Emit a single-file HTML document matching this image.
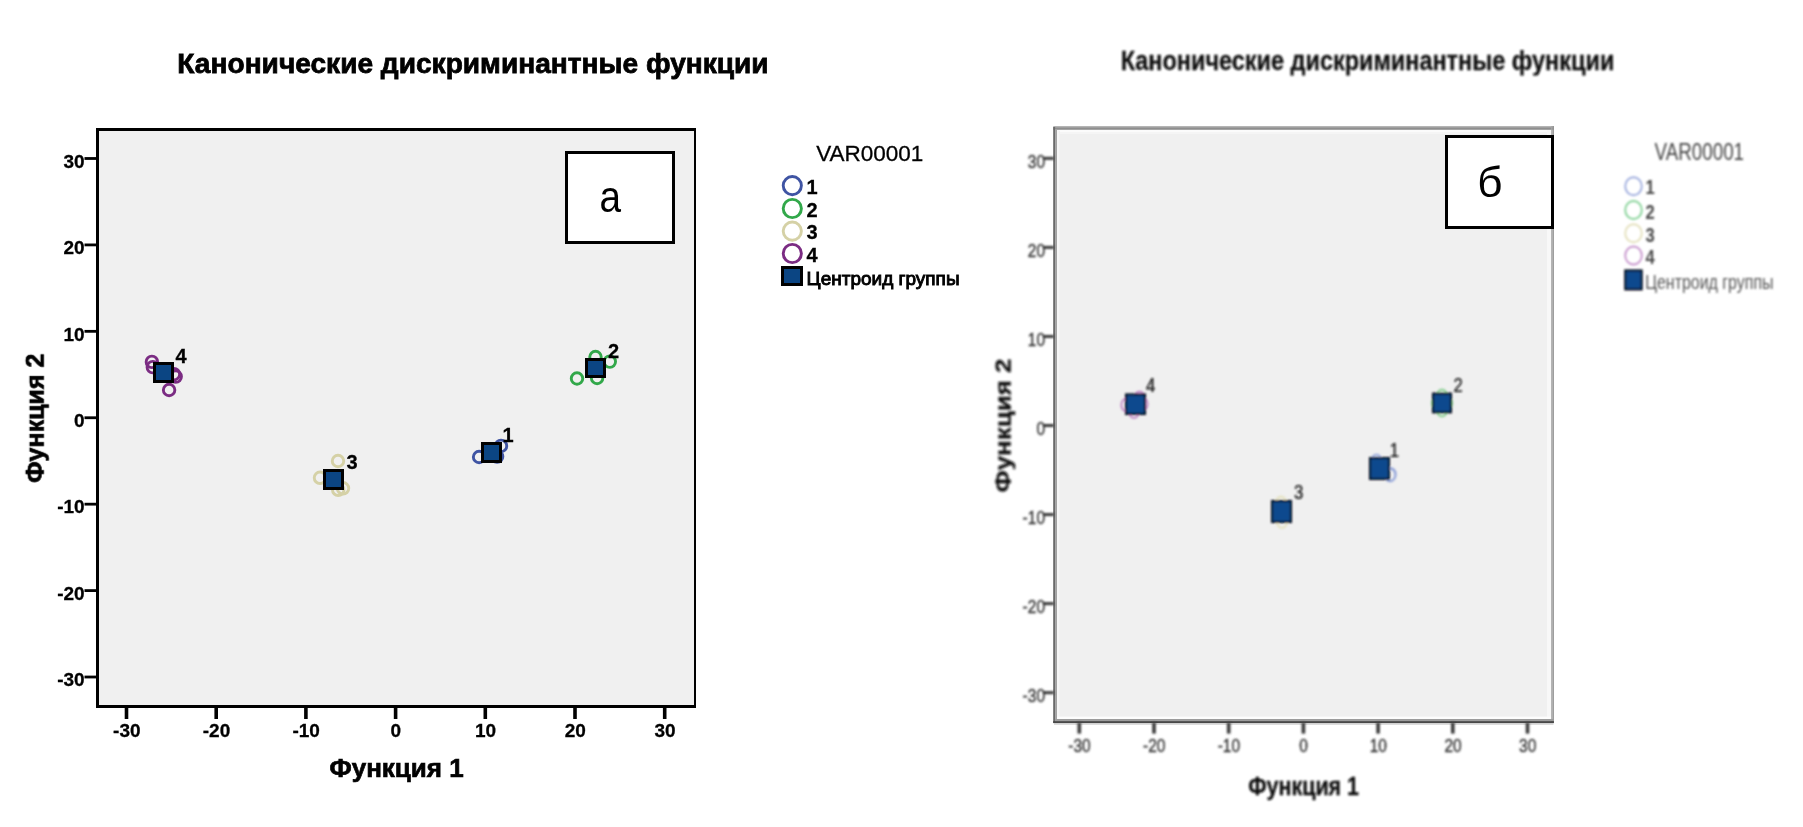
<!DOCTYPE html>
<html lang="ru">
<head>
<meta charset="utf-8">
<title>Канонические дискриминантные функции</title>
<style>
html,body{margin:0;padding:0;background:#fff;}
body{width:1803px;height:827px;overflow:hidden;}
svg{display:block;font-family:"Liberation Sans", Arial, sans-serif;}
text{white-space:pre;}
</style>
</head>
<body>
<svg width="1803" height="827" viewBox="0 0 1803 827">
<defs><filter id="blur" x="-5%" y="-5%" width="110%" height="110%"><feGaussianBlur stdDeviation="0.8"/></filter></defs>
<rect x="0" y="0" width="1803" height="827" fill="#fff"/>
<g id="lframe">
<rect x="96.00" y="128.00" width="600.00" height="580.00" fill="#000" />
<rect x="99.00" y="131.00" width="595.00" height="574.00" fill="#f0f0f0" />
<rect x="565.00" y="151.00" width="110.00" height="93.00" fill="#000" />
<rect x="568.00" y="154.00" width="104.00" height="87.00" fill="#fff" />
</g>
<g id="rframe">
<rect x="1054.00" y="127.00" width="499.00" height="595.00" fill="#f0f0f0" />
<rect x="1056.00" y="129.00" width="496.00" height="3.00" fill="#fbfbfb" />
<rect x="1056.00" y="132.00" width="496.00" height="2.00" fill="#f5f5f5" />
<rect x="1057.00" y="129.00" width="2.00" height="591.00" fill="#f7f7f7" />
<rect x="1059.00" y="131.00" width="1.00" height="589.00" fill="#f3f3f3" />
<rect x="1547.00" y="129.00" width="4.00" height="591.00" fill="#f8f8f8" />
<rect x="1056.00" y="716.60" width="496.00" height="2.40" fill="#fdfdfd" />
<rect x="1053.30" y="126.00" width="500.70" height="1.20" fill="#b4b4b4" />
<rect x="1053.30" y="127.20" width="500.70" height="2.60" fill="#8e8e8e" />
<rect x="1551.20" y="126.00" width="1.40" height="597.00" fill="#a6a6a6" />
<rect x="1552.60" y="126.00" width="1.30" height="597.00" fill="#949494" />
<rect x="1053.20" y="127.00" width="1.90" height="596.00" fill="#6a6a6a" />
<rect x="1055.10" y="129.00" width="1.90" height="592.00" fill="#a2a2a2" />
<rect x="1055.00" y="719.00" width="498.90" height="2.10" fill="#9c9c9c" />
<rect x="1053.20" y="721.10" width="500.70" height="2.00" fill="#484848" />
<rect x="1054.00" y="723.10" width="499.50" height="1.60" fill="#cfcfcf" />
</g>
<g id="right" filter="url(#blur)">
<rect x="1044.00" y="691.15" width="10.00" height="3.00" fill="#3a3a3a" />
<text transform="translate(1045.00,701.95) scale(0.8800,1.0000)" font-size="17.6" font-weight="normal" fill="#333" text-anchor="end" stroke="#333" stroke-width="0.35">-30</text>
<rect x="1077.50" y="722.50" width="3.60" height="11.10" fill="#3a3a3a" />
<text transform="translate(1079.50,752.30) scale(0.8800,1.0000)" font-size="17.6" font-weight="normal" fill="#333" text-anchor="middle" stroke="#333" stroke-width="0.35">-30</text>
<rect x="1044.00" y="602.10" width="10.00" height="3.00" fill="#3a3a3a" />
<text transform="translate(1045.00,612.90) scale(0.8800,1.0000)" font-size="17.6" font-weight="normal" fill="#333" text-anchor="end" stroke="#333" stroke-width="0.35">-20</text>
<rect x="1152.20" y="722.50" width="3.60" height="11.10" fill="#3a3a3a" />
<text transform="translate(1154.20,752.30) scale(0.8800,1.0000)" font-size="17.6" font-weight="normal" fill="#333" text-anchor="middle" stroke="#333" stroke-width="0.35">-20</text>
<rect x="1044.00" y="513.05" width="10.00" height="3.00" fill="#3a3a3a" />
<text transform="translate(1045.00,523.85) scale(0.8800,1.0000)" font-size="17.6" font-weight="normal" fill="#333" text-anchor="end" stroke="#333" stroke-width="0.35">-10</text>
<rect x="1226.90" y="722.50" width="3.60" height="11.10" fill="#3a3a3a" />
<text transform="translate(1228.90,752.30) scale(0.8800,1.0000)" font-size="17.6" font-weight="normal" fill="#333" text-anchor="middle" stroke="#333" stroke-width="0.35">-10</text>
<rect x="1044.00" y="424.00" width="10.00" height="3.00" fill="#3a3a3a" />
<text transform="translate(1045.00,434.80) scale(0.8800,1.0000)" font-size="17.6" font-weight="normal" fill="#333" text-anchor="end" stroke="#333" stroke-width="0.35">0</text>
<rect x="1301.60" y="722.50" width="3.60" height="11.10" fill="#3a3a3a" />
<text transform="translate(1303.60,752.30) scale(0.8800,1.0000)" font-size="17.6" font-weight="normal" fill="#333" text-anchor="middle" stroke="#333" stroke-width="0.35">0</text>
<rect x="1044.00" y="334.95" width="10.00" height="3.00" fill="#3a3a3a" />
<text transform="translate(1045.00,345.75) scale(0.8800,1.0000)" font-size="17.6" font-weight="normal" fill="#333" text-anchor="end" stroke="#333" stroke-width="0.35">10</text>
<rect x="1376.30" y="722.50" width="3.60" height="11.10" fill="#3a3a3a" />
<text transform="translate(1378.30,752.30) scale(0.8800,1.0000)" font-size="17.6" font-weight="normal" fill="#333" text-anchor="middle" stroke="#333" stroke-width="0.35">10</text>
<rect x="1044.00" y="245.90" width="10.00" height="3.00" fill="#3a3a3a" />
<text transform="translate(1045.00,256.70) scale(0.8800,1.0000)" font-size="17.6" font-weight="normal" fill="#333" text-anchor="end" stroke="#333" stroke-width="0.35">20</text>
<rect x="1451.00" y="722.50" width="3.60" height="11.10" fill="#3a3a3a" />
<text transform="translate(1453.00,752.30) scale(0.8800,1.0000)" font-size="17.6" font-weight="normal" fill="#333" text-anchor="middle" stroke="#333" stroke-width="0.35">20</text>
<rect x="1044.00" y="156.85" width="10.00" height="3.00" fill="#3a3a3a" />
<text transform="translate(1045.00,167.65) scale(0.8800,1.0000)" font-size="17.6" font-weight="normal" fill="#333" text-anchor="end" stroke="#333" stroke-width="0.35">30</text>
<rect x="1525.70" y="722.50" width="3.60" height="11.10" fill="#3a3a3a" />
<text transform="translate(1527.70,752.30) scale(0.8800,1.0000)" font-size="17.6" font-weight="normal" fill="#333" text-anchor="middle" stroke="#333" stroke-width="0.35">30</text>
<text transform="translate(1367.50,69.60) scale(0.8380,1.0000)" font-size="28" font-weight="bold" fill="#111" text-anchor="middle" stroke="#111" stroke-width="0.3">Канонические дискриминантные функции</text>
<text transform="translate(1303.60,795.00) scale(0.8430,1.0000)" font-size="25.5" font-weight="bold" fill="#111" text-anchor="middle" stroke="#111" stroke-width="0.3">Функция 1</text>
<text transform="translate(1010.20,425.50) rotate(-90) scale(1.0000,0.8600)" font-size="26" font-weight="bold" fill="#111" text-anchor="middle" stroke="#111" stroke-width="0.3">Функция 2</text>
<ellipse cx="1126.5" cy="405" rx="5.2" ry="6.4" fill="none" stroke="#b877be" stroke-width="1.6"/>
<ellipse cx="1139.5" cy="398" rx="5.2" ry="6.4" fill="none" stroke="#b877be" stroke-width="1.6"/>
<ellipse cx="1142.5" cy="404" rx="5.2" ry="6.4" fill="none" stroke="#b877be" stroke-width="1.6"/>
<ellipse cx="1134" cy="411.5" rx="5.2" ry="6.4" fill="none" stroke="#b877be" stroke-width="1.6"/>
<ellipse cx="1281" cy="503" rx="5.2" ry="6.4" fill="none" stroke="#e4e0b8" stroke-width="1.6"/>
<ellipse cx="1282" cy="521.5" rx="5.2" ry="6.4" fill="none" stroke="#e4e0b8" stroke-width="1.6"/>
<ellipse cx="1390" cy="475" rx="5.2" ry="6.4" fill="none" stroke="#8ea0d8" stroke-width="1.6"/>
<ellipse cx="1390.6" cy="474.4" rx="5.2" ry="6.4" fill="none" stroke="#8ea0d8" stroke-width="1.6"/>
<ellipse cx="1376.5" cy="461" rx="5.2" ry="6.4" fill="none" stroke="#8ea0d8" stroke-width="1.6"/>
<ellipse cx="1442" cy="396" rx="5.2" ry="6.4" fill="none" stroke="#7acb85" stroke-width="1.6"/>
<ellipse cx="1442" cy="410" rx="5.2" ry="6.4" fill="none" stroke="#7acb85" stroke-width="1.6"/>
<ellipse cx="1437" cy="403" rx="5.2" ry="6.4" fill="none" stroke="#7acb85" stroke-width="1.6"/>
<ellipse cx="1447" cy="403" rx="5.2" ry="6.4" fill="none" stroke="#7acb85" stroke-width="1.6"/>
<rect x="1125.00" y="393.40" width="21.00" height="21.60" fill="#060d1c" />
<rect x="1127.10" y="395.50" width="16.80" height="17.40" fill="#0a4a8e" />
<rect x="1271.00" y="500.00" width="21.00" height="23.00" fill="#060d1c" />
<rect x="1273.10" y="502.10" width="16.80" height="18.80" fill="#0a4a8e" />
<rect x="1369.00" y="457.00" width="21.00" height="23.00" fill="#060d1c" />
<rect x="1371.10" y="459.10" width="16.80" height="18.80" fill="#0a4a8e" />
<rect x="1432.00" y="392.60" width="20.00" height="20.70" fill="#060d1c" />
<rect x="1434.10" y="394.70" width="15.80" height="16.50" fill="#0a4a8e" />
<text transform="translate(1145.90,392.30) scale(0.8500,1.0000)" font-size="19.6" font-weight="normal" fill="#111" text-anchor="start" stroke="#111" stroke-width="0.25">4</text>
<text transform="translate(1293.90,498.90) scale(0.8500,1.0000)" font-size="19.6" font-weight="normal" fill="#111" text-anchor="start" stroke="#111" stroke-width="0.25">3</text>
<text transform="translate(1389.80,456.50) scale(0.8500,1.0000)" font-size="19.6" font-weight="normal" fill="#111" text-anchor="start" stroke="#111" stroke-width="0.25">1</text>
<text transform="translate(1453.50,392.30) scale(0.8500,1.0000)" font-size="19.6" font-weight="normal" fill="#111" text-anchor="start" stroke="#111" stroke-width="0.25">2</text>
<text transform="translate(1699.30,159.70) scale(0.8000,1.0000)" font-size="23.5" font-weight="normal" fill="#444" text-anchor="middle" >VAR00001</text>
<ellipse cx="1633.5" cy="186.2" rx="8.3" ry="9.0" fill="none" stroke="#9fadde" stroke-width="1.9"/>
<ellipse cx="1633.5" cy="210" rx="8.3" ry="9.0" fill="none" stroke="#86d298" stroke-width="1.9"/>
<ellipse cx="1633.5" cy="233.3" rx="8.3" ry="9.0" fill="none" stroke="#e4e0bc" stroke-width="1.9"/>
<ellipse cx="1633.5" cy="255.5" rx="8.3" ry="9.0" fill="none" stroke="#c796cd" stroke-width="1.9"/>
<rect x="1624.20" y="269.40" width="18.50" height="21.00" fill="#060d1c" />
<rect x="1626.30" y="271.50" width="14.30" height="16.80" fill="#0a4a8e" />
<text transform="translate(1645.60,194.30) scale(0.8500,1.0000)" font-size="19.5" font-weight="bold" fill="#484848" text-anchor="start" >1</text>
<text transform="translate(1645.60,218.70) scale(0.8500,1.0000)" font-size="19.5" font-weight="bold" fill="#484848" text-anchor="start" >2</text>
<text transform="translate(1645.60,241.60) scale(0.8500,1.0000)" font-size="19.5" font-weight="bold" fill="#484848" text-anchor="start" >3</text>
<text transform="translate(1645.60,263.80) scale(0.8500,1.0000)" font-size="19.5" font-weight="bold" fill="#484848" text-anchor="start" >4</text>
<text transform="translate(1645.20,288.80) scale(0.8180,1.0000)" font-size="19.5" font-weight="normal" fill="#555" text-anchor="start" >Центроид группы</text>
</g>
<rect x="1445.00" y="135.00" width="109.00" height="94.00" fill="#000" />
<rect x="1448.00" y="138.00" width="103.00" height="88.00" fill="#fff" />
<g id="left" opacity="0.999">
<rect x="84.50" y="675.61" width="12.50" height="2.80" fill="#000" />
<text transform="translate(84.60,686.21)" font-size="19" font-weight="bold" fill="#000" text-anchor="end" stroke="#000" stroke-width="0.3">-30</text>
<rect x="124.70" y="707.00" width="3.60" height="12.00" fill="#000" />
<text transform="translate(126.80,737.20)" font-size="19" font-weight="bold" fill="#000" text-anchor="middle" stroke="#000" stroke-width="0.3">-30</text>
<rect x="84.50" y="589.19" width="12.50" height="2.80" fill="#000" />
<text transform="translate(84.60,599.79)" font-size="19" font-weight="bold" fill="#000" text-anchor="end" stroke="#000" stroke-width="0.3">-20</text>
<rect x="214.40" y="707.00" width="3.60" height="12.00" fill="#000" />
<text transform="translate(216.50,737.20)" font-size="19" font-weight="bold" fill="#000" text-anchor="middle" stroke="#000" stroke-width="0.3">-20</text>
<rect x="84.50" y="502.77" width="12.50" height="2.80" fill="#000" />
<text transform="translate(84.60,513.37)" font-size="19" font-weight="bold" fill="#000" text-anchor="end" stroke="#000" stroke-width="0.3">-10</text>
<rect x="304.10" y="707.00" width="3.60" height="12.00" fill="#000" />
<text transform="translate(306.20,737.20)" font-size="19" font-weight="bold" fill="#000" text-anchor="middle" stroke="#000" stroke-width="0.3">-10</text>
<rect x="84.50" y="416.35" width="12.50" height="2.80" fill="#000" />
<text transform="translate(84.60,426.95)" font-size="19" font-weight="bold" fill="#000" text-anchor="end" stroke="#000" stroke-width="0.3">0</text>
<rect x="393.80" y="707.00" width="3.60" height="12.00" fill="#000" />
<text transform="translate(395.90,737.20)" font-size="19" font-weight="bold" fill="#000" text-anchor="middle" stroke="#000" stroke-width="0.3">0</text>
<rect x="84.50" y="329.93" width="12.50" height="2.80" fill="#000" />
<text transform="translate(84.60,340.53)" font-size="19" font-weight="bold" fill="#000" text-anchor="end" stroke="#000" stroke-width="0.3">10</text>
<rect x="483.50" y="707.00" width="3.60" height="12.00" fill="#000" />
<text transform="translate(485.60,737.20)" font-size="19" font-weight="bold" fill="#000" text-anchor="middle" stroke="#000" stroke-width="0.3">10</text>
<rect x="84.50" y="243.51" width="12.50" height="2.80" fill="#000" />
<text transform="translate(84.60,254.11)" font-size="19" font-weight="bold" fill="#000" text-anchor="end" stroke="#000" stroke-width="0.3">20</text>
<rect x="573.20" y="707.00" width="3.60" height="12.00" fill="#000" />
<text transform="translate(575.30,737.20)" font-size="19" font-weight="bold" fill="#000" text-anchor="middle" stroke="#000" stroke-width="0.3">20</text>
<rect x="84.50" y="157.09" width="12.50" height="2.80" fill="#000" />
<text transform="translate(84.60,167.69)" font-size="19" font-weight="bold" fill="#000" text-anchor="end" stroke="#000" stroke-width="0.3">30</text>
<rect x="662.90" y="707.00" width="3.60" height="12.00" fill="#000" />
<text transform="translate(665.00,737.20)" font-size="19" font-weight="bold" fill="#000" text-anchor="middle" stroke="#000" stroke-width="0.3">30</text>
<text transform="translate(473.00,73.00) scale(1.0040,1.0000)" font-size="28" font-weight="bold" fill="#000" text-anchor="middle" stroke="#000" stroke-width="0.8">Канонические дискриминантные функции</text>
<text transform="translate(396.60,777.10)" font-size="26" font-weight="bold" fill="#000" text-anchor="middle" stroke="#000" stroke-width="0.7">Функция 1</text>
<text transform="translate(44.20,418.20) rotate(-90) scale(0.9650,1.0200)" font-size="26" font-weight="bold" fill="#000" text-anchor="middle" stroke="#000" stroke-width="0.7">Функция 2</text>
<circle cx="151.9" cy="361.9" r="5.75" fill="none" stroke="#7b2c83" stroke-width="2.9"/>
<circle cx="152.8" cy="367.1" r="5.75" fill="none" stroke="#7b2c83" stroke-width="2.9"/>
<circle cx="175.7" cy="376.6" r="5.75" fill="none" stroke="#7b2c83" stroke-width="2.9"/>
<circle cx="173.9" cy="374.2" r="5.75" fill="none" stroke="#7b2c83" stroke-width="2.9"/>
<circle cx="169.1" cy="390" r="5.75" fill="none" stroke="#7b2c83" stroke-width="2.9"/>
<circle cx="338.0" cy="461.0" r="5.75" fill="none" stroke="#d5d1a6" stroke-width="2.9"/>
<circle cx="320.0" cy="477.8" r="5.75" fill="none" stroke="#d5d1a6" stroke-width="2.9"/>
<circle cx="343" cy="488.3" r="5.75" fill="none" stroke="#d5d1a6" stroke-width="2.9"/>
<circle cx="338.2" cy="489.8" r="5.75" fill="none" stroke="#d5d1a6" stroke-width="2.9"/>
<circle cx="479.1" cy="457.0" r="5.75" fill="none" stroke="#3f54a3" stroke-width="2.9"/>
<circle cx="501.0" cy="445.9" r="5.75" fill="none" stroke="#3f54a3" stroke-width="2.9"/>
<circle cx="497.1" cy="456.6" r="5.75" fill="none" stroke="#3f54a3" stroke-width="2.9"/>
<circle cx="595.5" cy="357.0" r="5.75" fill="none" stroke="#32a84a" stroke-width="2.9"/>
<circle cx="609.8" cy="361.6" r="5.75" fill="none" stroke="#32a84a" stroke-width="2.9"/>
<circle cx="597.1" cy="378.0" r="5.75" fill="none" stroke="#32a84a" stroke-width="2.9"/>
<circle cx="577.0" cy="378.5" r="5.75" fill="none" stroke="#32a84a" stroke-width="2.9"/>
<rect x="153.00" y="362.00" width="21.00" height="21.00" fill="#000" />
<rect x="156.00" y="365.00" width="15.00" height="15.00" fill="#0b4583" />
<rect x="323.00" y="469.00" width="21.00" height="21.00" fill="#000" />
<rect x="326.00" y="472.00" width="15.00" height="15.00" fill="#0b4583" />
<rect x="481.00" y="442.00" width="21.00" height="21.00" fill="#000" />
<rect x="484.00" y="445.00" width="15.00" height="15.00" fill="#0b4583" />
<rect x="585.00" y="358.00" width="21.00" height="20.00" fill="#000" />
<rect x="588.00" y="361.00" width="15.00" height="14.00" fill="#0b4583" />
<text transform="translate(175.60,362.80)" font-size="20" font-weight="bold" fill="#000" text-anchor="start" stroke="#000" stroke-width="0.3">4</text>
<text transform="translate(346.50,468.90)" font-size="20" font-weight="bold" fill="#000" text-anchor="start" stroke="#000" stroke-width="0.3">3</text>
<text transform="translate(502.50,442.00)" font-size="20" font-weight="bold" fill="#000" text-anchor="start" stroke="#000" stroke-width="0.3">1</text>
<text transform="translate(608.10,357.60)" font-size="20" font-weight="bold" fill="#000" text-anchor="start" stroke="#000" stroke-width="0.3">2</text>
<text transform="translate(610.30,212.40) scale(0.8800,1.0000)" font-size="44" font-weight="normal" fill="#000" text-anchor="middle" >a</text>
<text transform="translate(869.80,160.80)" font-size="22.5" font-weight="normal" fill="#000" text-anchor="middle" stroke="#000" stroke-width="0.3">VAR00001</text>
<circle cx="792.3" cy="185.6" r="9.1" fill="none" stroke="#3f54a3" stroke-width="2.9"/>
<circle cx="792.3" cy="208.5" r="9.1" fill="none" stroke="#32a84a" stroke-width="2.9"/>
<circle cx="792.3" cy="231.1" r="9.1" fill="none" stroke="#d5d1a6" stroke-width="2.9"/>
<circle cx="792.3" cy="253.5" r="9.1" fill="none" stroke="#7b2c83" stroke-width="2.9"/>
<rect x="781.00" y="266.00" width="22.00" height="20.00" fill="#000" />
<rect x="784.00" y="269.00" width="16.00" height="14.00" fill="#0b4583" />
<text transform="translate(806.60,194.10)" font-size="20" font-weight="bold" fill="#000" text-anchor="start" stroke="#000" stroke-width="0.3">1</text>
<text transform="translate(806.60,217.10)" font-size="20" font-weight="bold" fill="#000" text-anchor="start" stroke="#000" stroke-width="0.3">2</text>
<text transform="translate(806.60,239.40)" font-size="20" font-weight="bold" fill="#000" text-anchor="start" stroke="#000" stroke-width="0.3">3</text>
<text transform="translate(806.60,261.60)" font-size="20" font-weight="bold" fill="#000" text-anchor="start" stroke="#000" stroke-width="0.3">4</text>
<text transform="translate(806.60,284.60)" font-size="19" font-weight="normal" fill="#000" text-anchor="start" stroke="#000" stroke-width="0.95">Центроид группы</text>
<text transform="translate(1489.90,197.00) scale(1.0500,1.0000)" font-size="42" font-weight="normal" fill="#000" text-anchor="middle" >б</text>
</g>
</svg>
</body>
</html>
